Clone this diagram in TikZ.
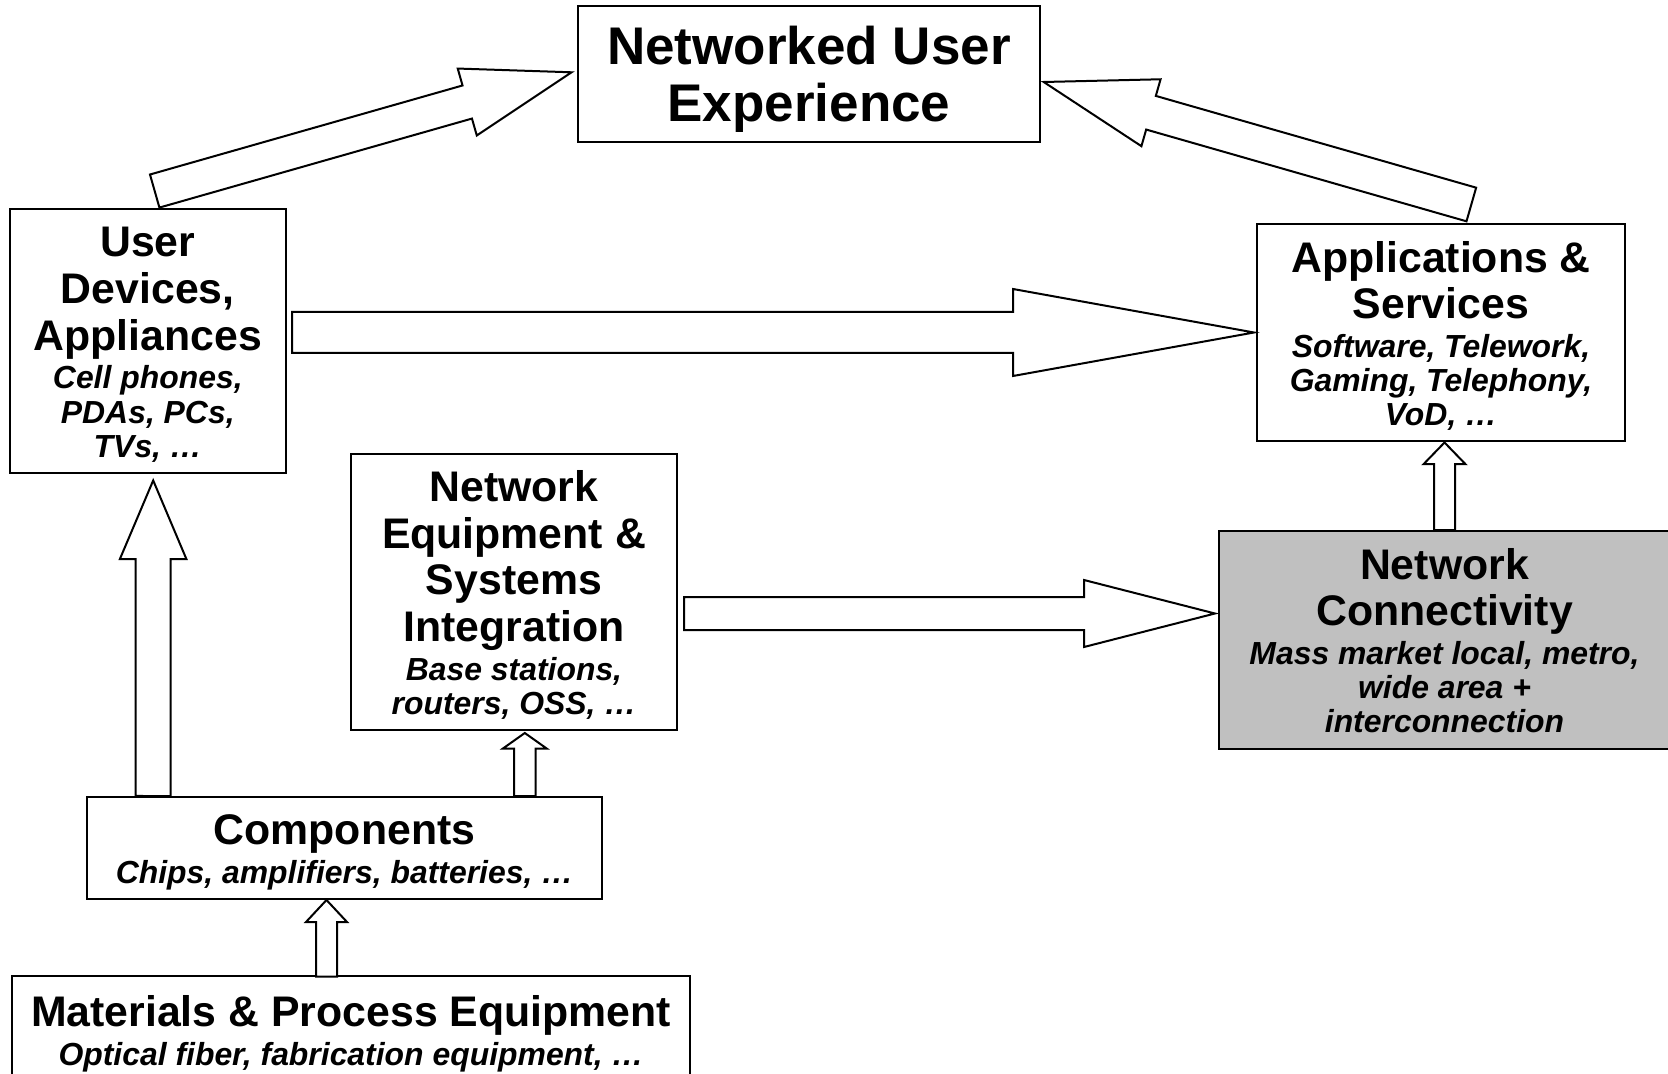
\documentclass[tikz,border=0pt]{standalone}
\usepackage{fontspec}
\setmainfont{Liberation Sans}
\usetikzlibrary{calc}
\definecolor{boxgray}{RGB}{192,192,192}
\newcommand\hdf{\fontsize{21.4}{23.4}\selectfont\bfseries\spaceskip0pt\xspaceskip0pt}
\newcommand\sbf{\fontsize{15.95}{17.1}\selectfont\bfseries\itshape\spaceskip0pt\xspaceskip0pt}
\newcommand\ttlf{\fontsize{26.5}{28.7}\selectfont\bfseries\spaceskip0pt\xspaceskip0pt}
\newcommand\tops{\rule{0pt}{0.905em}}
\newcommand\bots{\rule[-0.212em]{0pt}{0pt}}
% #1 start, #2 tip, #3 shaft half width, #4 head half width, #5 head length
\newcommand\blockarrow[5]{%
  \coordinate (ba-H) at ($(#2)!#5!(#1)$);
  \draw[blockarr] ($(#1)!#3!90:(#2)$) -- ($(ba-H)!#3!90:(#2)$) -- ($(ba-H)!#4!90:(#2)$)
    -- (#2) -- ($(ba-H)!#4!-90:(#2)$) -- ($(ba-H)!#3!-90:(#2)$) -- ($(#1)!#3!-90:(#2)$) -- cycle;
}
\begin{document}
\begin{tikzpicture}[x=0.5pt,y=-0.5pt,
  box/.style={draw=black, line width=1pt, fill=white, rectangle, inner sep=0pt, align=flush center},
  blockarr/.style={draw=black, line width=1pt, fill=white, line join=miter}]
\useasboundingbox (0,0) rectangle (1668,1074);

\node[box, minimum width=231.4pt, minimum height=68.05pt, text width=228pt] (nue) at (809,74.45)
  {\ttlf \tops Networked User\\Experience\bots\par};
\node[box, minimum width=138.2pt, minimum height=132.45pt, text width=136pt] (ud) at (147.8,341)
  {{\hdf \tops User\\Devices,\\Appliances\par}\vskip2.2pt{\sbf Cell phones,\\PDAs, PCs,\\TVs, …\bots\par}};
\node[box, minimum width=184pt, minimum height=108.5pt, text width=182pt] (app) at (1441,333)
  {{\hdf \tops Applications \&\\Services\par}\vskip2.2pt{\sbf Software, Telework,\\Gaming, Telephony,\\VoD, …\bots\par}};
\node[box, minimum width=163pt, minimum height=138pt, text width=161pt] (neteq) at (514,592)
  {{\hdf \tops Network\\Equipment \&\\Systems\\Integration\par}\vskip2.2pt{\sbf Base stations,\\routers, OSS, …\bots\par}};
\node[box, fill=boxgray, minimum width=225.5pt, minimum height=109pt, text width=223pt] (netconn) at (1444.5,640)
  {{\hdf \tops Network\\Connectivity\par}\vskip2.2pt{\sbf Mass market local, metro,\\wide area +\\interconnection\bots\par}};
\node[box, minimum width=257.5pt, minimum height=51pt, text width=255pt] (comp) at (344.5,848)
  {{\hdf \tops Components\par}\vskip2.2pt{\sbf Chips, amplifiers, batteries, …\bots\par}};
\node[box, minimum width=339pt, minimum height=54.75pt, text width=337pt] (mat) at (351,1030.25)
  {{\hdf \tops Materials \& Process Equipment\par}\vskip2.2pt{\sbf Optical fiber, fabrication equipment, …\bots\par}};

\coordinate (s1) at ($(comp.north west)+(67,0)$);
\coordinate (e1) at ($(ud.south west)+(144.6,6)$);
\coordinate (s2) at ($(mat.north west)+(315.5,2)$);
\coordinate (e2) at ($(comp.south west)+(240.5,0)$);
\coordinate (s3) at ($(comp.north west)+(438.8,0)$);
\coordinate (e3) at ($(neteq.south west)+(174.8,2)$);
\coordinate (s4) at (netconn.north);
\coordinate (e4) at ($(app.south)+(3.5,0)$);
\coordinate (s5) at ($(ud.east)+(5,-8.5)$);
\coordinate (e5) at ($(app.west)+(-2,-0.5)$);
\coordinate (s6) at ($(neteq.east)+(6,21.5)$);
\coordinate (e6) at ($(netconn.west)+(-3,-26.5)$);
\coordinate (s7) at ($(ud.north west)+(146.1,-16.5)$);
\coordinate (e7) at ($(nue.west)+(-5,-2.15)$);
\coordinate (s8) at ($(app.north west)+(215.3,-19)$);
\coordinate (e8) at ($(nue.east)+(2.3,7.55)$);

\blockarrow{s1}{e1}{8.75pt}{16.65pt}{39.35pt}
\blockarrow{s2}{e2}{5.25pt}{10.25pt}{11pt}
\blockarrow{s3}{e3}{5.4pt}{11pt}{7.8pt}
\blockarrow{s4}{e4}{5.25pt}{10.5pt}{10.85pt}
\blockarrow{s5}{e5}{10.25pt}{21.75pt}{120.5pt}
\blockarrow{s6}{e6}{8.25pt}{16.75pt}{65.5pt}
\blockarrow{s7}{e7}{8.6pt}{17.4pt}{54.25pt}
\blockarrow{s8}{e8}{8.75pt}{17.4pt}{55.8pt}
\end{tikzpicture}
\end{document}
